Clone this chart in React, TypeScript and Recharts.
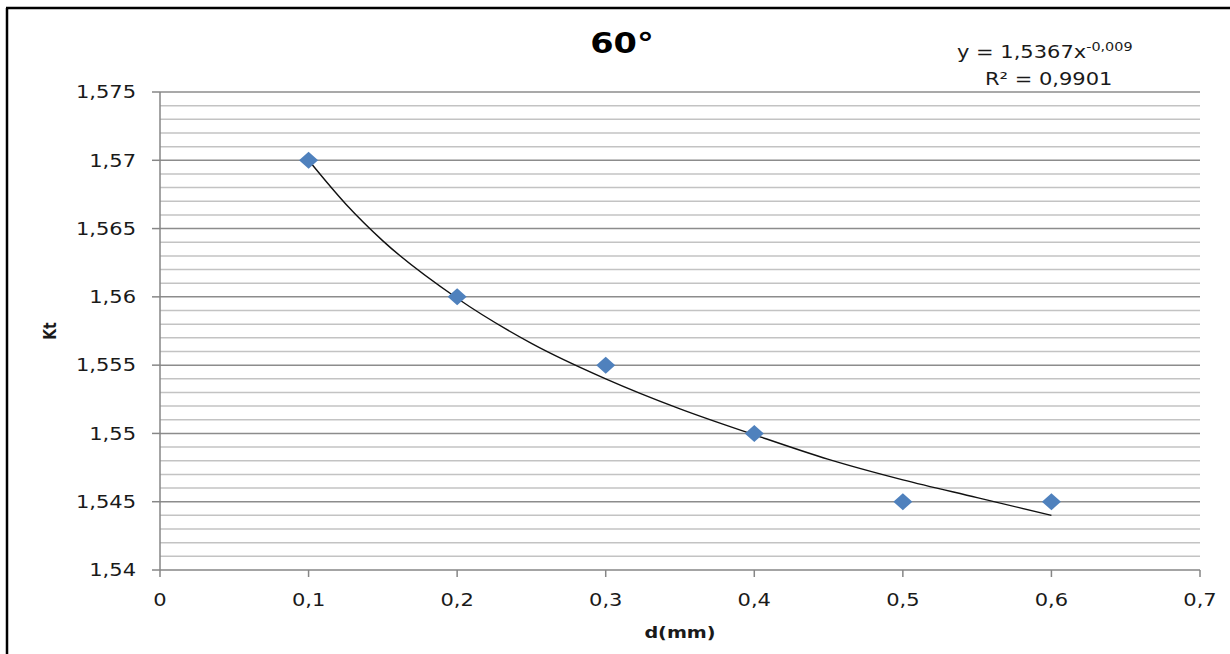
import React from 'react';
import {
  ComposedChart,
  Scatter,
  Line,
  XAxis,
  YAxis,
  ReferenceLine,
} from 'recharts';

// Measured points (d in mm, Kt)
const dValues = [0.1, 0.2, 0.3, 0.4, 0.5, 0.6];
const ktValues = [1.57, 1.56, 1.555, 1.55, 1.545, 1.545];

// Power trendline
const trendX = [0.1, 0.125, 0.15, 0.2, 0.25, 0.3, 0.35, 0.4, 0.45, 0.5, 0.55, 0.6];
const trendY = [1.57, 1.5668, 1.5641, 1.5599, 1.5566, 1.554, 1.5518, 1.5499, 1.5481, 1.5466, 1.5453, 1.544];

const xTicks = [0, 0.1, 0.2, 0.3, 0.4, 0.5, 0.6, 0.7];
const yTicks = [1.54, 1.545, 1.55, 1.555, 1.56, 1.565, 1.57, 1.575];
const yMinor = [
  1.541, 1.542, 1.543, 1.544, 1.546, 1.547, 1.548, 1.549, 1.551, 1.552, 1.553, 1.554,
  1.556, 1.557, 1.558, 1.559, 1.561, 1.562, 1.563, 1.564, 1.566, 1.567, 1.568, 1.569,
  1.571, 1.572, 1.573, 1.574,
];

const titleText = '60°';
const xTitle = 'd(mm)';
const yTitle = 'Kt';
const eqMain = 'y = 1,5367x';
const eqExp = '-0,009';
const r2Text = 'R² = 0,9901';

const points = dValues.map((x, i) => ({ x, y: ktValues[i] }));
const trend = trendX.map((x, i) => ({ x, y: trendY[i] }));

const fmt = (v: number) => String(v).replace('.', ',');
const FONT = 'DejaVu Sans, Verdana, sans-serif';
const TXT = '#1a1a1a';
const SX = 1.2;

const YTick = (props: any) => {
  const { x, y, payload } = props;
  return (
    <g transform={`translate(${x},${y})`}>
      <text transform={`scale(${SX},1)`} textAnchor="end" dy="0.36em" fontSize={17.5} fontFamily={FONT} fill={TXT}>
        {fmt(payload.value)}
      </text>
    </g>
  );
};

const XTick = (props: any) => {
  const { x, y, payload } = props;
  return (
    <g transform={`translate(${x},${y})`}>
      <text transform={`scale(${SX},1)`} textAnchor="middle" dy="0.36em" fontSize={17.5} fontFamily={FONT} fill={TXT}>
        {fmt(payload.value)}
      </text>
    </g>
  );
};

const Diamond = (props: any) => {
  const { cx, cy } = props;
  if (cx == null || cy == null) return null;
  const hw = 9.5;
  const hh = 8.5;
  return (
    <polygon
      points={`${cx - hw},${cy} ${cx},${cy - hh} ${cx + hw},${cy} ${cx},${cy + hh}`}
      fill="#4f81bd"
    />
  );
};

export default function App() {
  return (
    <div style={{ position: 'absolute', left: 0, top: 0, width: 1230, height: 654, background: '#fff' }}>
      <ComposedChart
        width={1230}
        height={654}
        margin={{ top: 92, right: 30, bottom: 44, left: 80 }}
      >
        <XAxis
          dataKey="x"
          type="number"
          domain={[0, 0.7]}
          ticks={xTicks}
          allowDataOverflow
          height={40}
          stroke="#868686"
          tickSize={7}
          tickMargin={23}
          tick={<XTick />}
          axisLine={{ stroke: '#868686', strokeWidth: 1.5 }}
          tickLine={{ stroke: '#868686', strokeWidth: 1.5 }}
        />
        <YAxis
          dataKey="y"
          type="number"
          domain={[1.54, 1.575]}
          ticks={yTicks}
          allowDataOverflow
          width={80}
          stroke="#868686"
          tickSize={8}
          tickMargin={16}
          tick={<YTick />}
          axisLine={{ stroke: '#868686', strokeWidth: 1.5 }}
          tickLine={{ stroke: '#868686', strokeWidth: 1.5 }}
        />
        {yMinor.map((v) => (
          <ReferenceLine key={`mn${v}`} y={v} stroke="#c3c3c3" strokeWidth={1.5} ifOverflow="extendDomain" />
        ))}
        {yTicks.slice(1).map((v) => (
          <ReferenceLine key={`mj${v}`} y={v} stroke="#8c8c8c" strokeWidth={1.5} />
        ))}
        <Scatter data={points} dataKey="y" shape={<Diamond />} isAnimationActive={false} />
        <Line
          data={trend}
          dataKey="y"
          type="monotone"
          stroke="#111"
          strokeWidth={1.4}
          dot={false}
          activeDot={false}
          isAnimationActive={false}
        />
      </ComposedChart>
      <svg
        width={1230}
        height={654}
        style={{ position: 'absolute', left: 0, top: 0, pointerEvents: 'none' }}
      >
        <line x1={7} y1={8} x2={7} y2={654} stroke="#000" strokeWidth={2.5} />
        <line x1={6} y1={8} x2={1230} y2={8} stroke="#000" strokeWidth={2.5} />
        <g transform="translate(622,43)">
          <text transform={`scale(${SX},1)`} textAnchor="middle" dy="0.36em" fontSize={28} fontWeight="bold" fontFamily={FONT} fill="#000">
            {titleText}
          </text>
        </g>
        <g transform="translate(957,58)">
          <text transform={`scale(${SX},1)`} textAnchor="start" fontSize={17.5} fontFamily={FONT} fill={TXT}>
            {eqMain}
            <tspan fontSize={12} dy={-7}>{eqExp}</tspan>
          </text>
        </g>
        <g transform="translate(985,85)">
          <text transform={`scale(${SX},1)`} textAnchor="start" fontSize={17.5} fontFamily={FONT} fill={TXT}>
            {r2Text}
          </text>
        </g>
        <g transform="translate(680,632)">
          <text transform={`scale(${SX},1)`} textAnchor="middle" dy="0.36em" fontSize={16} fontWeight="bold" fontFamily={FONT} fill={TXT}>
            {xTitle}
          </text>
        </g>
        <g transform="translate(50,331) rotate(-90)">
          <text transform={`scale(1,${SX})`} textAnchor="middle" dy="0.36em" fontSize={14} fontWeight="bold" fontFamily={FONT} fill={TXT}>
            {yTitle}
          </text>
        </g>
      </svg>
    </div>
  );
}
